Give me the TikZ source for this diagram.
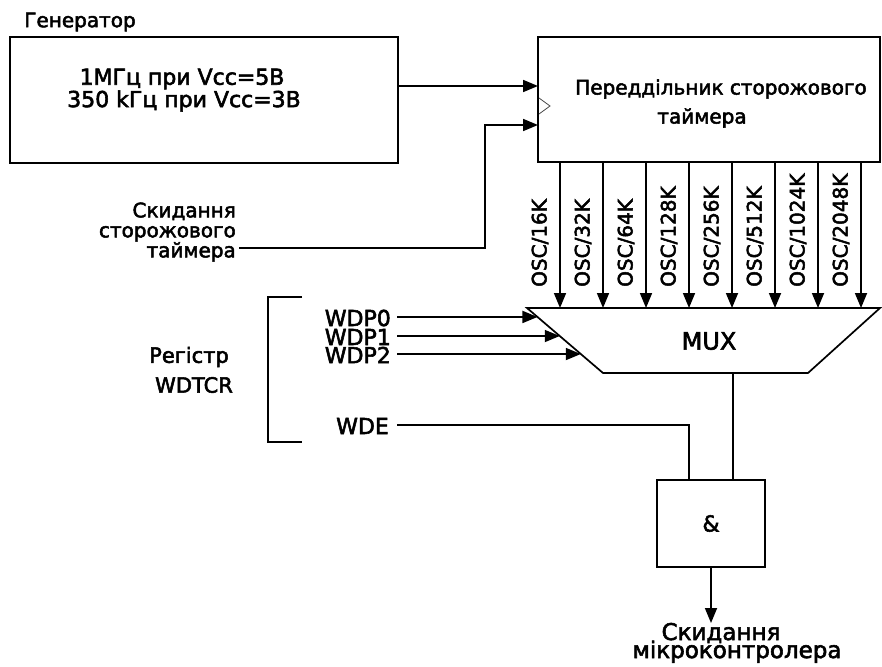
\documentclass[tikz,border=0pt]{standalone}
\usepackage{fontspec}
\setmainfont{DejaVu Sans}[FakeBold=2.5]
\usetikzlibrary{arrows.meta,calc}
\begin{document}
\begin{tikzpicture}[x=1pt,y=-1pt,
  wire/.style={line width=1.7pt},
  arr/.style={wire,-{Triangle[length=15pt,width=12pt]}},
  blk/.style={draw,line width=1.7pt,inner sep=0pt},
  lbl/.style={font=\fontsize{20}{20}\selectfont,inner sep=0pt},
  big/.style={font=\fontsize{22}{22}\selectfont,inner sep=0pt}]
\useasboundingbox (0,0) rectangle (882,666);
% generator
\node[blk,minimum width=388pt,minimum height=126pt] (gen) at (204,100) {};
\node[lbl] (gname) at (80,22) {Генератор};
\node[big] (g1) at (182,79) {1МГц при Vcc=5В};
\node[big] (g2) at (184,101) {350 kГц при Vcc=3В};
% prescaler
\node[blk,minimum width=342pt,minimum height=125pt] (pre) at (709,99.5) {};
\node[lbl] (p1t) at (721,89) {Переддільник сторожового};
\node[lbl] (p2t) at (702,118) {таймера};
\draw[line width=0.8pt,black!70] (539,98) -- (550,106) -- (539,114);
\coordinate (pin1) at (538,86);
\coordinate (pin2) at (538,125);
\draw[arr] (gen.east |- pin1) -- (pin1);
% reset
\node[lbl,align=right,anchor=east] (rst) at (236,232) {Скидання\\сторожового\\таймера};
\coordinate (rs) at (239,248);
\draw[arr] (rs) -- ++(246,0) |- (pin2);
% mux
\coordinate (mtl) at (527,308);
\coordinate (mtr) at (880,308);
\coordinate (mbr) at (808,373);
\coordinate (mbl) at (603,373);
\draw[wire] (mtl) -- (mtr) -- (mbr) -- (mbl) -- cycle;
\node[font=\fontsize{24}{24}\selectfont,inner sep=0pt] (mux) at (709,341) {MUX};
% OSC
\foreach \i/\t in {0/16K,1/32K,2/64K,3/128K,4/256K,5/512K,6/1024K,7/2048K}{
  \coordinate (o\i) at ({560+43*\i},162);
  \draw[arr] (o\i) -- (o\i |- mtl);
  \node[lbl,rotate=90,anchor=west] (ol\i) at ({540+43*\i},287) {OSC/\t};
}
% register
\draw[wire] (302,297) -- (268,297) -- (268,442) -- (302,442);
\node[lbl,font=\fontsize{21}{21}\selectfont] (reg1) at (189,357) {Регістр};
\node[lbl,font=\fontsize{21}{21}\selectfont] (reg2) at (194,385) {WDTCR};
\node[big,anchor=east] (wdp0) at (391,318) {WDP0};
\node[big,anchor=east] (wdp1) at (391,337) {WDP1};
\node[big,anchor=east] (wdp2) at (391,355) {WDP2};
\node[big,anchor=east] (wde) at (389,426) {WDE};
\coordinate (w0) at ($(mtl)!0.138!(mbl)$);
\coordinate (w1) at ($(mtl)!0.431!(mbl)$);
\coordinate (w2) at ($(mtl)!0.708!(mbl)$);
\draw[arr] ($(wdp0.east)+(6,-1)$) -- (w0);
\draw[arr] ($(wdp1.east)+(6,-1)$) -- (w1);
\draw[arr] ($(wdp2.east)+(6,-1)$) -- (w2);
% and
\node[blk,minimum width=108pt,minimum height=87pt,font=\fontsize{22}{22}\selectfont] (and) at (711,523.5) {\&};
\coordinate (mo) at (733,373);
\draw[wire] (mo) -- (mo |- and.north);
\draw[wire] ($(wde.east)+(8,-1)$) -| ($(and.north)+(-22,0)$);
\coordinate (out) at (711,623);
\draw[arr] (and.south) -- (out);
\node[font=\fontsize{23}{23}\selectfont,inner sep=0pt,anchor=base] (o1) at (721,640) {Скидання};
\node[font=\fontsize{23}{23}\selectfont,inner sep=0pt,anchor=base] (o2) at (737,658) {мікроконтролера};
\end{tikzpicture}
\end{document}
